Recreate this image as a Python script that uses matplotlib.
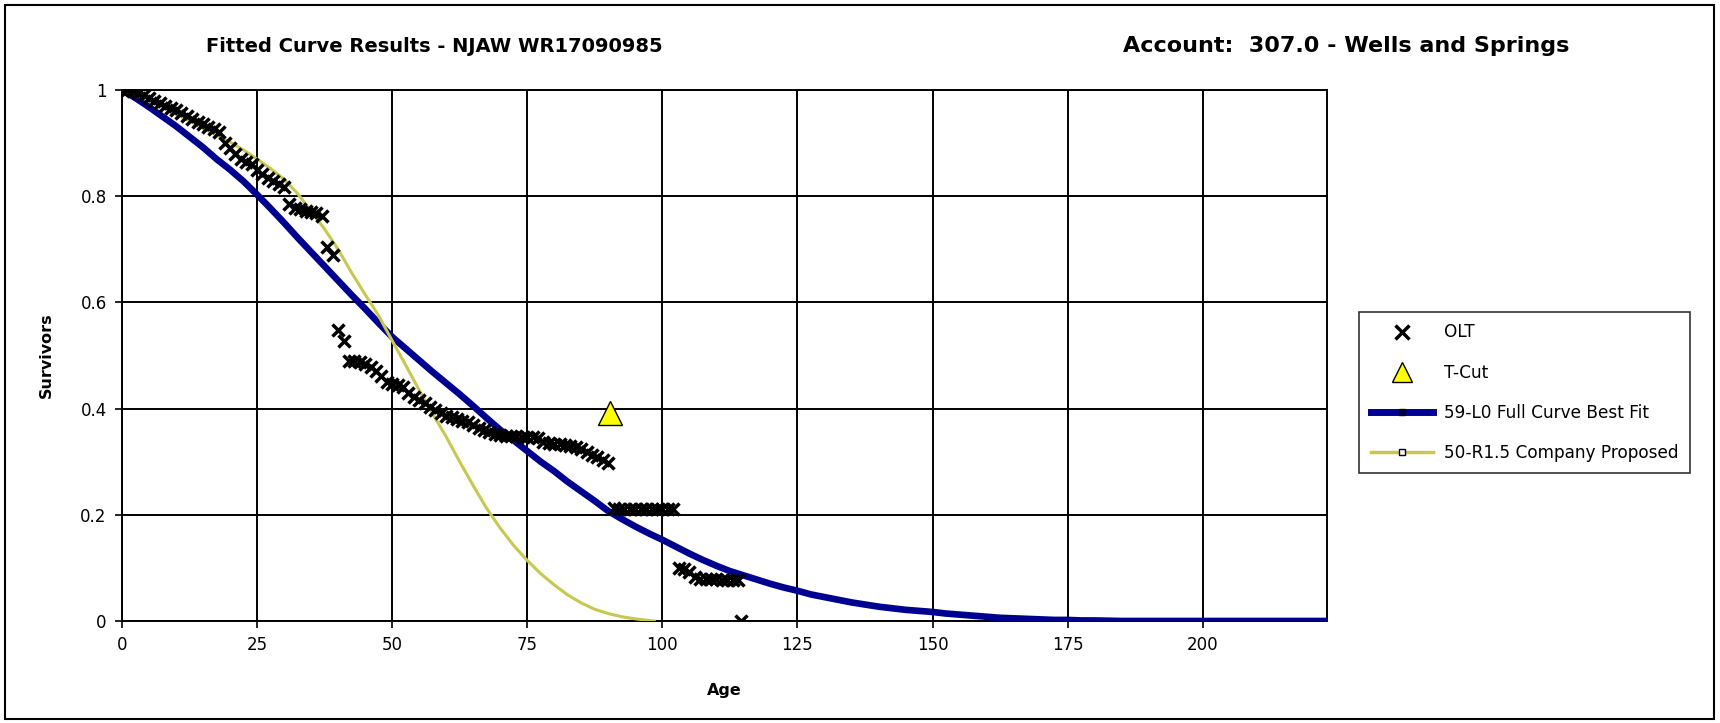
import matplotlib.pyplot as plt
from matplotlib.lines import Line2D
from matplotlib.patches import Rectangle

# OLT observed survivors
olt_age = [0, 1, 2, 3, 4, 5, 6, 7, 8, 9, 10, 11, 12, 13, 14, 15, 16, 17, 18, 19,
           20, 21, 22, 23, 24, 25, 26, 27, 28, 29, 30, 31, 32, 33, 34, 35, 36, 37, 38, 39,
           40, 41, 42, 43, 44, 45, 46, 47, 48, 49, 50, 51, 52, 53, 54, 55, 56, 57, 58, 59,
           60, 61, 62, 63, 64, 65, 66, 67, 68, 69, 70, 71, 72, 73, 74, 75, 76, 77, 78, 79,
           80, 81, 82, 83, 84, 85, 86, 87, 88, 89, 90,
           91, 92, 93, 94, 95, 96, 97, 98, 99, 100, 101, 102,
           103, 104, 105, 106, 107, 108, 109, 110, 111, 112, 113, 114, 114.5]
olt_surv = [1.000, 1.000, 0.998, 0.995, 0.990, 0.985, 0.980, 0.975, 0.970, 0.966,
            0.962, 0.957, 0.952, 0.946, 0.940, 0.936, 0.931, 0.926, 0.920, 0.900,
            0.890, 0.880, 0.870, 0.865, 0.860, 0.850, 0.842, 0.835, 0.828, 0.823,
            0.818, 0.785, 0.778, 0.775, 0.772, 0.770, 0.768, 0.762, 0.705, 0.690,
            0.548, 0.528, 0.490, 0.489, 0.487, 0.484, 0.478, 0.470, 0.462, 0.450,
            0.446, 0.445, 0.440, 0.430, 0.422, 0.416, 0.410, 0.403, 0.398, 0.392,
            0.386, 0.384, 0.380, 0.377, 0.374, 0.370, 0.363, 0.360, 0.356, 0.352,
            0.350, 0.349, 0.348, 0.348, 0.347, 0.347, 0.346, 0.345, 0.338, 0.336,
            0.334, 0.333, 0.332, 0.330, 0.328, 0.324, 0.318, 0.312, 0.308, 0.304, 0.298,
            0.212, 0.211, 0.211, 0.210, 0.210, 0.210, 0.210, 0.210, 0.210, 0.210, 0.210, 0.210,
            0.100, 0.098, 0.092, 0.082, 0.080, 0.080, 0.079, 0.079, 0.078, 0.078, 0.078, 0.078, 0.0]

tcut_age = [90.4]
tcut_surv = [0.392]

# 59-L0 full curve best fit
l0_age = [0, 2.5, 5, 7.5, 10, 12.5, 15, 17.5, 20, 22.5, 25, 27.5, 30, 32.5, 35, 37.5,
          40, 42.5, 45, 47.5, 50, 52.5, 55, 57.5, 60, 62.5, 65, 67.5, 70, 72.5, 75, 77.5,
          80, 82.5, 85, 87.5, 90, 92.5, 95, 97.5, 100, 102.5, 105, 107.5, 110, 112.5,
          115, 117.5, 120, 122.5, 125, 127.5, 130, 132.5, 135, 137.5, 140, 142.5, 145,
          147.5, 150, 152.5, 155, 157.5, 160, 162.5, 165, 167.5, 170, 172.5, 175, 177.5,
          180, 185, 190, 200, 210, 223]
l0_surv = [1.000, 0.985, 0.968, 0.950, 0.932, 0.912, 0.892, 0.870, 0.850, 0.828, 0.803,
           0.777, 0.750, 0.722, 0.695, 0.668, 0.641, 0.614, 0.588, 0.561, 0.535, 0.513,
           0.491, 0.469, 0.448, 0.427, 0.405, 0.382, 0.360, 0.340, 0.320, 0.300, 0.282,
           0.262, 0.244, 0.226, 0.207, 0.192, 0.178, 0.165, 0.153, 0.140, 0.127, 0.115,
           0.104, 0.094, 0.086, 0.078, 0.070, 0.063, 0.057, 0.050, 0.045, 0.040, 0.035,
           0.031, 0.027, 0.024, 0.021, 0.019, 0.017, 0.014, 0.012, 0.010, 0.008, 0.006,
           0.005, 0.004, 0.003, 0.002, 0.002, 0.001, 0.001, 0.0, 0.0, 0.0, 0.0, 0.0]

# 50-R1.5 company proposed
r15_age = [0, 2.5, 5, 7.5, 10, 12.5, 15, 17.5, 20, 22.5, 25, 27.5, 30, 32.5, 35, 37.5,
           40, 42.5, 45, 47.5, 50, 52.5, 55, 57.5, 60, 62.5, 65, 67.5, 70, 72.5, 75, 77.5,
           80, 82.5, 85, 87.5, 90, 92.5, 95, 97.5, 98.5]
r15_surv = [1.000, 0.990, 0.980, 0.968, 0.955, 0.942, 0.928, 0.915, 0.902, 0.887, 0.870,
            0.852, 0.832, 0.805, 0.772, 0.738, 0.700, 0.656, 0.615, 0.575, 0.528, 0.482,
            0.435, 0.390, 0.347, 0.300, 0.255, 0.212, 0.175, 0.142, 0.114, 0.089, 0.068,
            0.049, 0.034, 0.022, 0.014, 0.008, 0.004, 0.001, 0.0]

x_ticks = [0, 25, 50, 75, 100, 125, 150, 175, 200]
y_ticks = [0, 0.2, 0.4, 0.6, 0.8, 1]
y_ticklabels = ['0', '0.2', '0.4', '0.6', '0.8', '1']

blue = '#000090'
olive = '#C8C850'

plt.rcParams['font.family'] = 'DejaVu Sans'

fig = plt.figure(figsize=(17.2, 7.23), dpi=100)
ax = fig.add_axes([0.0709, 0.1411, 0.7006, 0.7344])

ax.plot(l0_age, l0_surv, color=blue, lw=4.8, solid_capstyle='butt', zorder=3)
ax.plot(r15_age, r15_surv, color=olive, lw=2.2, zorder=3)
ax.plot(olt_age, olt_surv, ls='none', marker='x', color='black', ms=8, mew=2.5, zorder=4)
ax.plot(tcut_age, tcut_surv, ls='none', marker='^', ms=17, mfc='#FFFF00', mec='black',
        mew=1, zorder=5)

ax.set_xlim(0, 223)
ax.set_ylim(0, 1)
ax.set_xticks(x_ticks)
ax.set_yticks(y_ticks)
ax.set_yticklabels(y_ticklabels)
ax.tick_params(labelsize=12, length=5, width=1.2, color='black', pad=6)
ax.grid(True, color='black', lw=1.4)
ax.set_axisbelow(True)
for s in ax.spines.values():
    s.set_linewidth(1.4)
    s.set_color('black')

ax.set_xlabel('Age', fontsize=11.5, fontweight='bold', labelpad=21)
ax.set_ylabel('Survivors', fontsize=11.5, fontweight='bold', labelpad=19)

fig.text(0.120, 0.936, 'Fitted Curve Results - NJAW WR17090985', fontsize=14,
         fontweight='bold', va='center', ha='left')
fig.text(0.653, 0.936, 'Account:  307.0 - Wells and Springs', fontsize=16,
         fontweight='bold', va='center', ha='left')

handles = [
    Line2D([], [], ls='none', marker='x', color='black', ms=10, mew=2.5),
    Line2D([], [], ls='none', marker='^', ms=14, mfc='#FFFF00', mec='black', mew=1),
    Line2D([], [], color=blue, lw=5, marker='s', ms=4, mfc='#000033', mec='#000033'),
    Line2D([], [], color=olive, lw=2.5, marker='s', ms=5, mfc='white', mec='black', mew=1),
]
labels = ['OLT', 'T-Cut', '59-L0 Full Curve Best Fit', '50-R1.5 Company Proposed']
leg = fig.legend(handles, labels, loc='upper left', bbox_to_anchor=(0.790, 0.569),
                 fontsize=12.2, frameon=True, fancybox=False, edgecolor='black',
                 handlelength=3.7, handletextpad=0.6, labelspacing=1.3, borderpad=0.7,
                 borderaxespad=0, numpoints=1)
leg.get_frame().set_linewidth(1.2)

fig.patches.append(Rectangle((0.003, 0.0055), 0.9936, 0.9876, transform=fig.transFigure,
                             fill=False, ec='black', lw=1.5))

fig.savefig('out.png', dpi=100)
